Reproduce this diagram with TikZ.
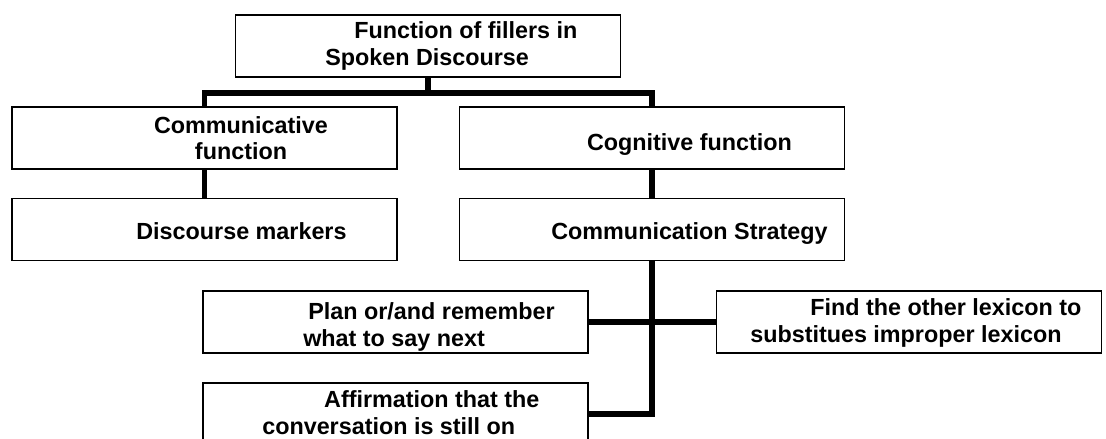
\documentclass[tikz,border=0pt]{standalone}
\usepackage{fontspec}
\setmainfont{Liberation Sans}
\usetikzlibrary{positioning}
\newcommand{\pxl}{0.7113pt}

\begin{document}
\begin{tikzpicture}[x=0.025cm, y=-0.025cm,
  box/.style={draw, line width=1.3pt, inner sep=0pt,
              minimum width=385*\pxl, minimum height=62*\pxl},
  txt/.style={inner sep=0pt, align=left,
              font=\fontsize{16.6}{19.2}\selectfont\bfseries},
  link/.style={line width=3.9pt}]
\useasboundingbox (0,0) rectangle (1106,439);
\clip (0,0) rectangle (1106,439);
\fill[white] (0,0) rectangle (1106,439);
% boxes
\node[box] (top) at (428,46) {};
\node[box] (comm) at (204.5,138) {};
\node[box] (cog) at (652,138) {};
\node[box] (disc) at (204.5,229.5) {};
\node[box] (strat) at (652,229.5) {};
\node[box] (plan) at (395.5,322) {};
\node[box] (find) at (909,322) {};
\node[box] (affirm) at (395.5,414) {};
% texts (base = last line)
\node[txt, anchor=base west] (toptxt) at (325,66)
  {\hspace*{20.6pt}Function of fillers in\\Spoken Discourse};
\node[txt, anchor=base, align=center] (commtxt) at (241,160)
  {Communicative\\function};
\node[txt, anchor=base] (cogtxt) at (689.5,151) {Cognitive function};
\node[txt, anchor=base] (disctxt) at (241.5,239) {Discourse markers};
\node[txt, anchor=base] (strattxt) at (689.5,239) {Communication Strategy};
\node[txt, anchor=base west] (plantxt) at (303,346)
  {\hspace*{3.6pt}Plan or/and remember\\what to say next};
\node[txt, anchor=base west] (findtxt) at (750,342)
  {\hspace*{42.7pt}Find the other lexicon to\\substitues improper lexicon};
\node[txt, anchor=base west] (affirmtxt) at (262,434)
  {\hspace*{44pt}Affirmation that the\\conversation is still on};
% connectors
\draw[link] (top.south) -- ++(0,15) coordinate (split);
\draw[link] (comm.north) |- (split) -| (cog.north);
\draw[link] (comm) -- (disc);
\draw[link] (cog) -- (strat);
\draw[link] (strat.south) |- (affirm.east);
\draw[link] (plan) -- (find);
\end{tikzpicture}
\end{document}
